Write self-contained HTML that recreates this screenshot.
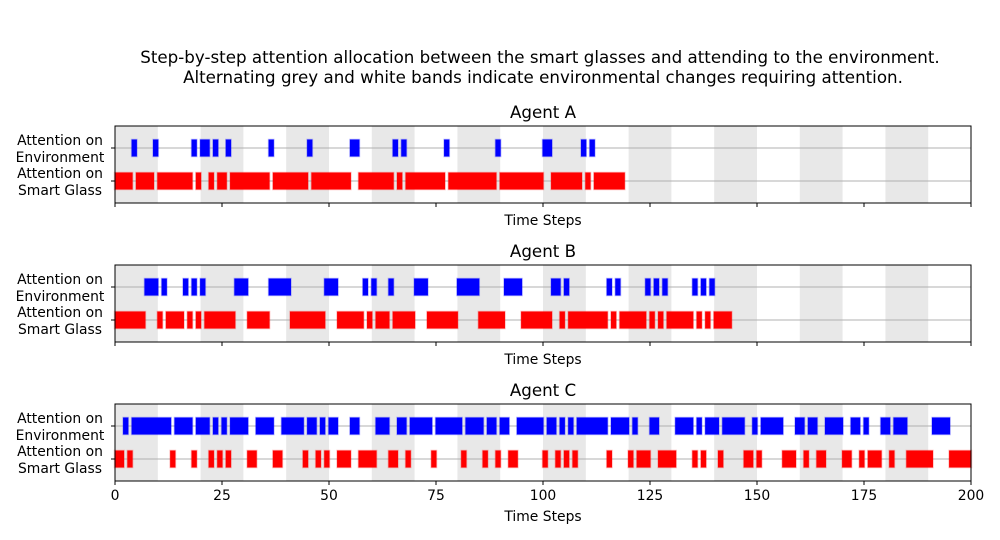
<!DOCTYPE html>
<html><head><meta charset="utf-8"><style>
body{margin:0;background:#fff;}
svg{display:block;font-family:"DejaVu Sans","Liberation Sans",sans-serif;}
</style></head><body>
<svg id="chart" width="1000" height="540" viewBox="0 0 1000 540" xmlns="http://www.w3.org/2000/svg">
<text x="540" y="63" font-size="16.7" text-anchor="middle">Step-by-step attention allocation between the smart glasses and attending to the environment.</text>
<text x="543" y="83" font-size="16.7" text-anchor="middle">Alternating grey and white bands indicate environmental changes requiring attention.</text>
</svg>
<script>
// Data: steps where attention is on environment (blue); other steps are smart glass (red)
const agentNames = ["Agent A", "Agent B", "Agent C"];
const stepCounts = [119, 144, 200];
const envStepsA = [4,9,18,20,21,23,26,36,45,55,56,65,67,77,89,100,101,109,111];
const envStepsB = [7,8,9,11,16,18,20,28,29,30,36,37,38,39,40,49,50,51,58,60,64,70,71,72,80,81,82,83,84,91,92,93,94,102,103,105,115,117,124,126,128,135,137,139];
const glassStepsC = [0,1,3,13,18,22,24,26,31,32,37,38,44,47,49,52,53,54,57,58,59,60,64,65,68,74,81,86,89,92,93,100,103,105,107,115,120,122,123,124,127,128,129,130,135,137,141,147,148,150,156,157,158,161,164,165,170,171,174,176,177,178,181,185,186,187,188,189,190,195,196,197,198,199];
const bandStarts = [0,20,40,60,80,100,120,140,160,180];
const xTicks = [0,25,50,75,100,125,150,175,200];

const svg = document.getElementById('chart');
const NS = 'http://www.w3.org/2000/svg';
const X0 = 115, X1 = 971, XMIN = 0, XMAX = 200;
const panelTops = [126, 265, 404];
const PH = 77;
function xs(v){ return X0 + (v - XMIN) / (XMAX - XMIN) * (X1 - X0); }
function ys(top, v){ return top + 55 - v * 33; } // 1=environment, 0=smart glass
function mk(tag, attrs){ const e = document.createElementNS(NS, tag); for (const k in attrs) e.setAttribute(k, attrs[k]); svg.appendChild(e); return e; }

function seqFor(i){
  const n = stepCounts[i];
  const s = [];
  for (let t = 0; t < n; t++){
    if (i === 0) s.push(envStepsA.includes(t) ? 1 : 0);
    else if (i === 1) s.push(envStepsB.includes(t) ? 1 : 0);
    else s.push(glassStepsC.includes(t) ? 0 : 1);
  }
  return s;
}

agentNames.forEach((name, i) => {
  const top = panelTops[i];
  const bands = bandStarts;
  bands.forEach(b => {
    const r = mk('rect', {x: xs(b), y: top, width: xs(b + 10) - xs(b), height: PH, fill: '#e8e8e8'});
    
    
  });
  [1, 0].forEach(v => {
    const g = mk('line', {x1: X0, x2: X1, y1: ys(top, v), y2: ys(top, v), stroke: '#b0b0b0', 'stroke-width': 1});
    
    
  });
  const seq = seqFor(i);
  let start = 0;
  for (let t = 1; t <= seq.length; t++){
    if (t === seq.length || seq[t] !== seq[start]){
      const v = seq[start];
      const col = v ? '#0000ff' : '#ff0000';
      const x = xs(start) - 0.5, w = xs(t) - xs(start) + 1;
      const r = mk('rect', {x: x, y: ys(top, v) - 8.5, width: w, height: 17, fill: col, stroke: v ? 'rgba(0,0,255,0.25)' : 'rgba(255,0,0,0.25)', 'stroke-width': 1.5});
      
      
      start = t;
    }
  }
  const frame = mk('rect', {x: X0, y: top, width: X1 - X0, height: PH, fill: 'none', stroke: '#000', 'stroke-width': 1});
  
  
  const title = mk('text', {x: (X0 + X1) / 2, y: top - 8, 'font-size': 16.7, 'text-anchor': 'middle'});
  title.textContent = name;
  
  
  [[1, 'Attention on', 'Environment'], [0, 'Attention on', 'Smart Glass']].forEach(([v, a, b]) => {
    const y = ys(top, v);
    const tk = mk('line', {x1: X0 - 4, x2: X0, y1: y, y2: y, stroke: '#000', 'stroke-width': 1});
    
    
    const t1 = mk('text', {x: 60, y: y - 3, 'font-size': 13.9, 'text-anchor': 'middle'});
    t1.textContent = a;
    
    
    const t2 = mk('text', {x: 60, y: y + 14, 'font-size': 13.9, 'text-anchor': 'middle'});
    t2.textContent = b;
    
    
  });
  xTicks.forEach(v => {
    const tk = mk('line', {x1: xs(v), x2: xs(v), y1: top + PH, y2: top + PH + 4, stroke: '#000', 'stroke-width': 1});
    
    
    if (i === 2){
      const tl = mk('text', {x: xs(v), y: top + PH + 19, 'font-size': 13.9, 'text-anchor': 'middle'});
      tl.textContent = v;
      
      
    }
  });
  const xl = mk('text', {x: (X0 + X1) / 2, y: top + PH + (i === 2 ? 40 : 22), 'font-size': 13.9, 'text-anchor': 'middle'});
  xl.textContent = 'Time Steps';
  
  
});
</script>
</body></html>
